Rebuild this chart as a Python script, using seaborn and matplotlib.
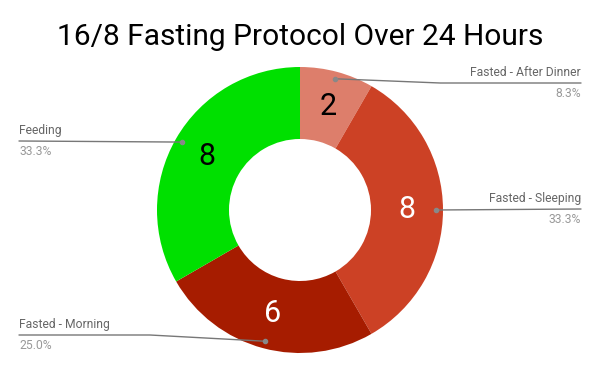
import numpy as np
import matplotlib
matplotlib.use("Agg")
import matplotlib.pyplot as plt
import seaborn as sns

sns.set_theme(style="white")
plt.rcParams['font.family'] = ['Roboto', 'DejaVu Sans']

categories = ["Fasted - After Dinner", "Fasted - Sleeping", "Fasted - Morning", "Feeding"]
hours = [2, 8, 6, 8]
colors = ["#dd7e6b", "#cc4125", "#a61c00", "#00e000"]
value_colors = ["black", "white", "white", "black"]
title = "16/8 Fasting Protocol Over 24 Hours"

W, H = 600, 371
fig = plt.figure(figsize=(W / 100, H / 100), dpi=100)
ax = fig.add_axes([0, 0, 1, 1])

cx, cy = 300, H - 210
R = 143
hole = 71
wedges, _ = ax.pie(hours, colors=colors, startangle=90, counterclock=False,
                   center=(cx, cy), radius=R, frame=True,
                   wedgeprops=dict(width=R - hole, linewidth=0))
ax.set_xlim(0, W)
ax.set_ylim(0, H)
ax.set_aspect("equal")
ax.axis("off")

total = sum(hours)
cum = np.cumsum([0] + hours)
# label line y positions (pixels from top), layout only
label_line_y = [83, 209, 335, 141]
for i in range(len(hours)):
    mid_deg = 90 - (cum[i] + cum[i + 1]) / 2 / total * 360
    mid = np.deg2rad(mid_deg)
    rv = (R + hole) / 2
    ax.text(cx + rv * np.cos(mid), cy + rv * np.sin(mid), str(hours[i]),
            ha="center", va="center", fontsize=22, color=value_colors[i])
    rd = 0.95 * R
    dx, dy = cx + rd * np.cos(mid), cy + rd * np.sin(mid)
    ly = H - label_line_y[i]
    right = np.cos(mid) > 0
    xe = 581 if right else 19
    xb = dx + (105 if right else -115)
    if abs(ly - dy) < 2:
        ax.plot([dx, xe], [dy, ly], color="#777777", lw=1, zorder=3)
    else:
        ax.plot([dx, xb, xe], [dy, ly, ly], color="#777777", lw=1, zorder=3)
    ax.plot(dx, dy, "o", color="#888888", ms=3, zorder=4)
    ha = "right" if right else "left"
    ax.text(xe, ly + 4, categories[i], ha=ha, va="bottom", fontsize=8.7, color="#666666")
    ax.text(xe, ly - 4, f"{hours[i] / total * 100:.1f}%", ha=ha, va="top",
            fontsize=8.7, color="#999999")

ax.text(W / 2, H - 37, title, ha="center", va="center", fontsize=21.5, color="black")

fig.savefig("out.png", dpi=100)
